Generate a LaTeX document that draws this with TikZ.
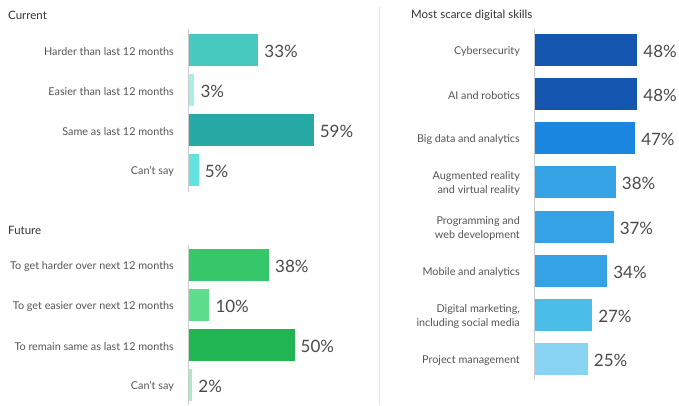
\documentclass[tikz,border=0pt]{standalone}
\usepackage{fontspec}
\setmainfont{Lato}
\usepackage{tikz}
\usetikzlibrary{positioning}
\definecolor{curHard}{HTML}{47C9C0}
\definecolor{curEasy}{HTML}{A6F0E8}
\definecolor{curSame}{HTML}{27AAA5}
\definecolor{curCant}{HTML}{63E3DD}
\definecolor{futHard}{HTML}{36C76A}
\definecolor{futEasy}{HTML}{5EDE8D}
\definecolor{futSame}{HTML}{22B553}
\definecolor{futCant}{HTML}{A3EDC0}
\definecolor{skillDark}{HTML}{1557B0}
\definecolor{skillMid}{HTML}{1A86E0}
\definecolor{skillSky}{HTML}{36A2E6}
\definecolor{skillLight}{HTML}{4ABDE8}
\definecolor{skillPale}{HTML}{88D3F2}
\definecolor{labgray}{HTML}{555555}
\definecolor{valgray}{HTML}{4A4A4A}
\definecolor{titlegray}{HTML}{333333}
\definecolor{axisgray}{HTML}{CCCCCC}
\definecolor{divgray}{HTML}{E2E2E2}
\tikzstyle{bar} = [rectangle, inner sep=0pt, outer sep=0pt,
    minimum height=32pt, anchor=west]
\tikzstyle{cat} = [inner sep=0pt, text=labgray, align=right, yshift=-1.5pt,
    font=\fontsize{10.8}{14}\selectfont]
\tikzstyle{pct} = [inner sep=0pt, text=valgray, yshift=-1.5pt,
    font=\fontsize{17}{20}\selectfont]
\tikzstyle{heading} = [inner sep=0pt, anchor=west, text=titlegray,
    font=\fontsize{11.5}{13}\selectfont]
\tikzstyle{axis} = [draw=axisgray, line width=1pt]
\tikzstyle{divider} = [draw=divgray, line width=0.8pt]

\begin{document}
\begin{tikzpicture}[x=1pt, y=-1pt]
    \useasboundingbox (0,0) rectangle (679,405);
    % Headings
    \node [heading] (tcur) at (8,15) {Current};
    \node [heading] (tfut) at (8,230) {Future};
    \node [heading] (tskill) at (411,15) {Most scarce digital skills};
    % Current bars
    \node [bar, fill=curHard, minimum width=33*2.13pt] (chard) at (188,50) {};
    \node [bar, fill=curEasy, minimum width=3*2.13pt] (ceasy) at (188,90) {};
    \node [bar, fill=curSame, minimum width=59*2.13pt] (csame) at (188,130) {};
    \node [bar, fill=curCant, minimum width=5*2.13pt] (ccant) at (188,170) {};
    % Future bars
    \node [bar, fill=futHard, minimum width=38*2.13pt] (fhard) at (188,265) {};
    \node [bar, fill=futEasy, minimum width=10*2.13pt] (feasy) at (188,305) {};
    \node [bar, fill=futSame, minimum width=50*2.13pt] (fsame) at (188,345) {};
    \node [bar, fill=futCant, minimum width=2*2.13pt] (fcant) at (188,385) {};
    % Skill bars
    \node [bar, fill=skillDark, minimum width=48*2.15pt] (cyber) at (534,50) {};
    \node [bar, fill=skillDark, minimum width=48*2.15pt] (ai) at (534,94.1) {};
    \node [bar, fill=skillMid, minimum width=47*2.15pt] (bigdata) at (534,138.3) {};
    \node [bar, fill=skillSky, minimum width=38*2.15pt] (ar) at (534,182.4) {};
    \node [bar, fill=skillSky, minimum width=37*2.15pt] (prog) at (534,226.6) {};
    \node [bar, fill=skillSky, minimum width=34*2.15pt] (mobile) at (534,270.7) {};
    \node [bar, fill=skillLight, minimum width=27*2.15pt] (digital) at (534,314.8) {};
    \node [bar, fill=skillPale, minimum width=25*2.15pt] (project) at (534,359) {};
    % Category labels
    \node [cat, left=14pt of chard.west] {Harder than last 12 months};
    \node [cat, left=14pt of ceasy.west] {Easier than last 12 months};
    \node [cat, left=14pt of csame.west] {Same as last 12 months};
    \node [cat, left=14pt of ccant.west] {Can't say};
    \node [cat, left=14pt of fhard.west] {To get harder over next 12 months};
    \node [cat, left=14pt of feasy.west] {To get easier over next 12 months};
    \node [cat, left=14pt of fsame.west] {To remain same as last 12 months};
    \node [cat, left=14pt of fcant.west] {Can't say};
    \node [cat, left=14pt of cyber.west] {Cybersecurity};
    \node [cat, left=14pt of ai.west] {AI and robotics};
    \node [cat, left=14pt of bigdata.west] {Big data and analytics};
    \node [cat, left=14pt of ar.west] {Augmented reality\\and virtual reality};
    \node [cat, left=14pt of prog.west] {Programming and\\web development};
    \node [cat, left=14pt of mobile.west] {Mobile and analytics};
    \node [cat, left=14pt of digital.west] {Digital marketing,\\including social media};
    \node [cat, left=14pt of project.west] {Project management};
    % Values
    \node [pct, right=6pt of chard.east] {33\%};
    \node [pct, right=6pt of ceasy.east] {3\%};
    \node [pct, right=6pt of csame.east] {59\%};
    \node [pct, right=6pt of ccant.east] {5\%};
    \node [pct, right=6pt of fhard.east] {38\%};
    \node [pct, right=6pt of feasy.east] {10\%};
    \node [pct, right=6pt of fsame.east] {50\%};
    \node [pct, right=6pt of fcant.east] {2\%};
    \node [pct, right=6pt of cyber.east] {48\%};
    \node [pct, right=6pt of ai.east] {48\%};
    \node [pct, right=6pt of bigdata.east] {47\%};
    \node [pct, right=6pt of ar.east] {38\%};
    \node [pct, right=6pt of prog.east] {37\%};
    \node [pct, right=6pt of mobile.east] {34\%};
    \node [pct, right=6pt of digital.east] {27\%};
    \node [pct, right=6pt of project.east] {25\%};
    % Axes
    \path [axis] (188,29) -- (188,192);
    \path [axis] (188,245) -- (188,405);
    \path [axis] (534,29) -- (534,380);
    \path [divider] (379,7) -- (379,405);
\end{tikzpicture}
\end{document}
